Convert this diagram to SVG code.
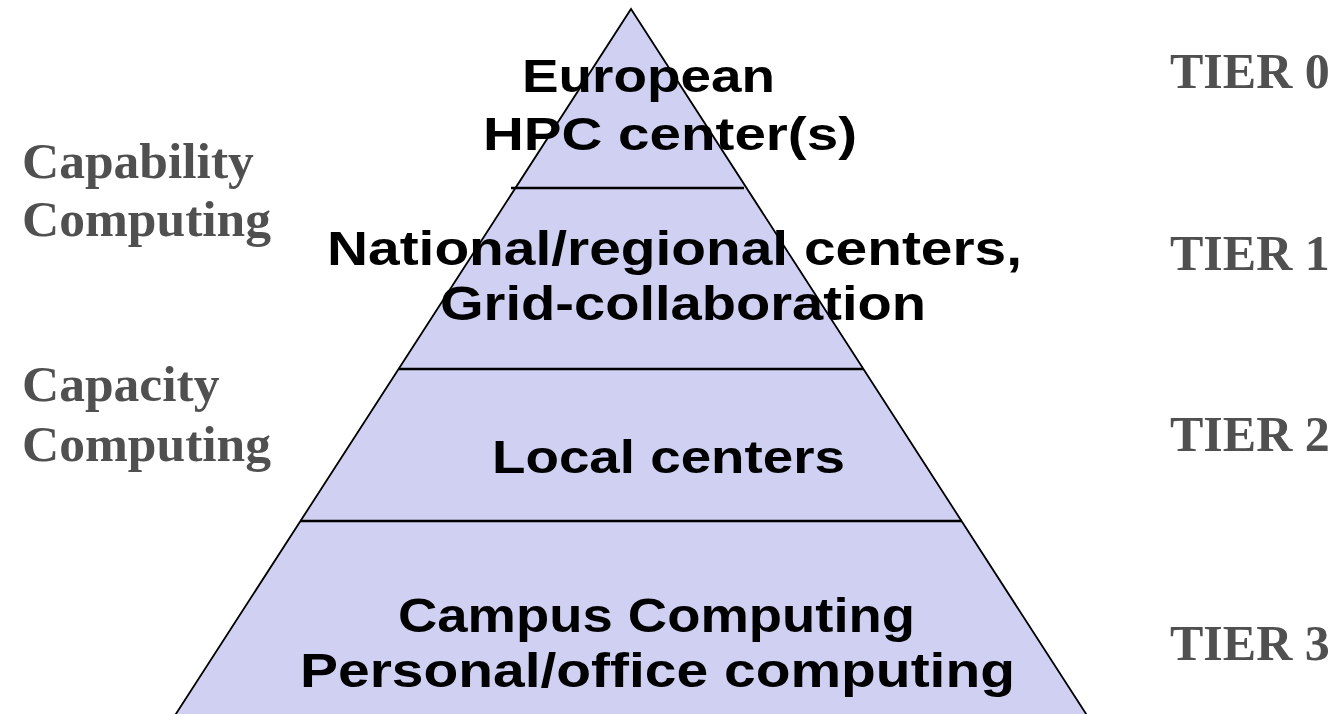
<svg xmlns="http://www.w3.org/2000/svg" width="1339" height="714" viewBox="0 0 1339 714">
<style>
.pyr{fill:#d0d0f2;stroke:#000;stroke-width:1.8;stroke-linejoin:miter}
.div{stroke:#000;stroke-width:2.5}
.in{font-family:"Liberation Sans",Arial,sans-serif;font-weight:bold;fill:#000;text-anchor:start}
.side{font-family:"Liberation Serif","Times New Roman",serif;font-weight:bold;fill:#505050;font-size:51.5px}
.tier{font-family:"Liberation Serif","Times New Roman",serif;font-weight:bold;fill:#505050;font-size:50px}
</style>
<rect width="1339" height="714" fill="#fff"/>
<g id="pyramid">
<polygon class="pyr" points="631,9 1090,720 172,720"/>
</g>
<g id="connectors">
<line class="div" x1="511" y1="188" x2="744" y2="188"/>
<line class="div" x1="399" y1="369" x2="863" y2="369"/>
<line class="div" x1="300" y1="521" x2="962" y2="521"/>
</g>
<g id="tier0-label">
<text class="in" x="522" y="92" font-size="47" textLength="253" lengthAdjust="spacingAndGlyphs">European</text>
<text class="in" x="483" y="150" font-size="47" textLength="374" lengthAdjust="spacingAndGlyphs">HPC center(s)</text>
</g>
<g id="tier1-label">
<text class="in" x="327" y="265" font-size="49" textLength="695" lengthAdjust="spacingAndGlyphs">National/regional centers,</text>
<text class="in" x="440" y="320" font-size="49" textLength="486" lengthAdjust="spacingAndGlyphs">Grid-collaboration</text>
</g>
<g id="tier2-label">
<text class="in" x="492" y="473" font-size="47" textLength="353" lengthAdjust="spacingAndGlyphs">Local centers</text>
</g>
<g id="tier3-label">
<text class="in" x="398" y="632" font-size="49" textLength="517" lengthAdjust="spacingAndGlyphs">Campus Computing</text>
<text class="in" x="300" y="687" font-size="49" textLength="715" lengthAdjust="spacingAndGlyphs">Personal/office computing</text>
</g>
<g id="capability">
<text class="side" x="22" y="178">Capability</text>
<text class="side" x="22" y="236">Computing</text>
</g>
<g id="capacity">
<text class="side" x="22" y="401">Capacity</text>
<text class="side" x="22" y="461">Computing</text>
</g>
<g id="tiers">
<text class="tier" x="1170" y="88">TIER 0</text>
<text class="tier" x="1170" y="270">TIER 1</text>
<text class="tier" x="1170" y="451">TIER 2</text>
<text class="tier" x="1170" y="660">TIER 3</text>
</g>
</svg>
